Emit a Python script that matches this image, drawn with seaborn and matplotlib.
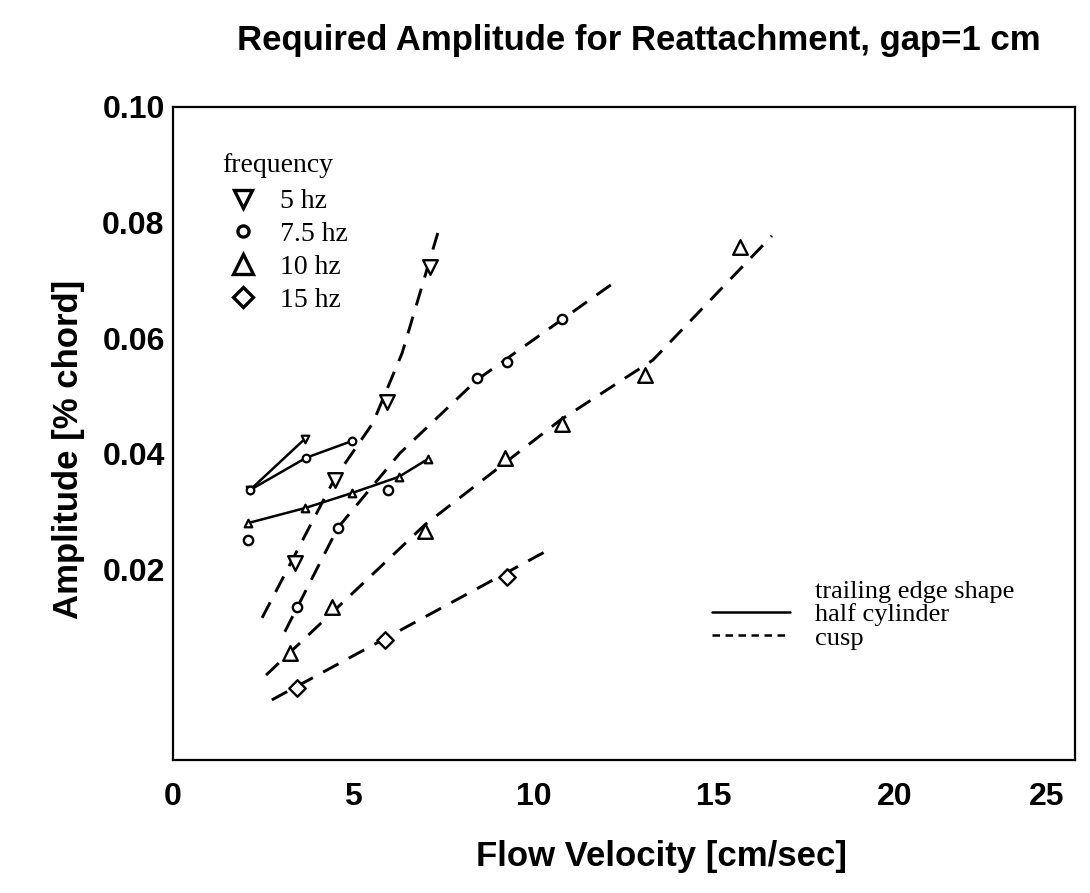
import matplotlib
matplotlib.use("Agg")
import matplotlib.pyplot as plt
from matplotlib.lines import Line2D
from matplotlib.transforms import ScaledTranslation
import seaborn as sns

# cusp trailing edge: measured points per frequency
cusp5_x = [3.38, 4.49, 5.93, 7.12]
cusp5_y = [0.0211, 0.0355, 0.0490, 0.0723]
cusp75_x = [2.08, 3.43, 4.56, 5.97, 8.42, 9.25, 10.77]
cusp75_y = [0.0251, 0.0135, 0.0271, 0.0337, 0.0531, 0.0559, 0.0634]
cusp10_x = [3.24, 4.40, 6.98, 9.20, 10.77, 13.08, 15.72]
cusp10_y = [0.0055, 0.0135, 0.0266, 0.0392, 0.0451, 0.0536, 0.0757]
cusp15_x = [3.43, 5.88, 9.25]
cusp15_y = [-0.0006, 0.0078, 0.0187]

# cusp fit curves
fit5_x = [2.47, 4.49, 5.54, 6.35, 7.34]
fit5_y = [0.0116, 0.0358, 0.0453, 0.0574, 0.0782]
fit75_x = [3.10, 4.57, 6.29, 8.43, 10.37, 12.20]
fit75_y = [0.0092, 0.0272, 0.0401, 0.0528, 0.0614, 0.0695]
fit10_x = [2.58, 6.98, 10.73, 13.30, 16.60]
fit10_y = [0.0017, 0.0277, 0.0458, 0.0562, 0.0777]
fit15_x = [2.74, 10.39]
fit15_y = [-0.0026, 0.0233]

# half cylinder trailing edge
hc5_x = [2.13, 3.66]
hc5_y = [0.0337, 0.0426]
hc75_x = [2.13, 3.69, 4.96]
hc75_y = [0.0337, 0.0393, 0.0422]
hc10_x = [2.08, 3.66, 4.96, 6.26, 7.07]
hc10_y = [0.0280, 0.0306, 0.0332, 0.0360, 0.0391]

freq_labels = ['5 hz', '7.5 hz', '10 hz', '15 hz']
freq_markers = ['v', 'o', '^', 'D']
shape_labels = ['trailing edge shape', 'half cylinder', 'cusp']
x_ticks = [0, 5, 10, 15, 20, 25]
y_ticks = [0.02, 0.04, 0.06, 0.08, 0.10]

sns.set_style("white")
plt.rcParams['font.family'] = ['Liberation Sans', 'DejaVu Sans']
plt.rcParams.update({'text.color': 'black', 'axes.labelcolor': 'black',
                     'xtick.color': 'black', 'ytick.color': 'black'})

fig = plt.figure(figsize=(10.9, 8.93), dpi=100)
ax = fig.add_axes([0.1587, 0.1489, 0.8275, 0.7313])

dash = (0, (6, 4))
for fx, fy in [(fit5_x, fit5_y), (fit75_x, fit75_y), (fit10_x, fit10_y), (fit15_x, fit15_y)]:
    sns.lineplot(x=fx, y=fy, ax=ax, color='black', lw=2.1, linestyle=dash,
                 estimator=None, sort=False)

for hx, hy in [(hc5_x, hc5_y), (hc75_x, hc75_y), (hc10_x, hc10_y)]:
    sns.lineplot(x=hx, y=hy, ax=ax, color='black', lw=1.8,
                 estimator=None, sort=False)

sizes = {'v': 110, 'o': 45, '^': 110, 'D': 70}
for (px, py), m in zip([(cusp5_x, cusp5_y), (cusp75_x, cusp75_y),
                        (cusp10_x, cusp10_y), (cusp15_x, cusp15_y)], freq_markers):
    sns.scatterplot(x=px, y=py, ax=ax, marker=m, s=sizes[m], color='white',
                    edgecolor='black', linewidth=1.7, zorder=3)

for (px, py), m in zip([(hc5_x, hc5_y), (hc75_x, hc75_y), (hc10_x, hc10_y)], ['v', 'o', '^']):
    sns.scatterplot(x=px, y=py, ax=ax, marker=m, s=30, color='white',
                    edgecolor='black', linewidth=1.6, zorder=3)

ax.set_xlim(0, 25)
ax.set_ylim(-0.013, 0.10)
ax.set_xticks(x_ticks)
ax.set_yticks(y_ticks)
ax.set_yticklabels([f'{v:.2f}' for v in y_ticks])
ax.tick_params(axis='x', direction='in', length=10, width=1.2, pad=16,
               labelsize=23)
ax.tick_params(axis='y', direction='out', length=3, width=1.2, pad=3,
               labelsize=23)
for lab in ax.get_xticklabels() + ax.get_yticklabels():
    lab.set_fontweight('bold')
# last x label sits a little inside the frame edge, as in the original
last = ax.get_xticklabels()[-1]
last.set_transform(last.get_transform() + ScaledTranslation(-0.28, 0, fig.dpi_scale_trans))
for sp in ax.spines.values():
    sp.set_color('black')
    sp.set_linewidth(1.6)

ax.set_xlabel('Flow Velocity [cm/sec]', fontsize=25, fontweight='bold')
ax.xaxis.set_label_coords(0.542, -0.122)
ax.set_ylabel('Amplitude [% chord]', fontsize=25, fontweight='bold')
ax.yaxis.set_label_coords(-0.098, 0.475)
fig.text(0.586, 0.955, 'Required Amplitude for Reattachment, gap=1 cm',
         ha='center', va='center', fontsize=25, fontweight='bold')

serif20 = {'family': 'Liberation Serif', 'size': 20}
freq_handles = [Line2D([], [], marker=m, ls='', mfc='white', mec='black',
                       ms=ms, mew=2.4)
                for m, ms in zip(freq_markers, [13, 8, 14, 10])]
leg1 = ax.legend(freq_handles, freq_labels, title='frequency', loc='upper left',
                 bbox_to_anchor=(0.054, 0.93), frameon=False, prop=serif20,
                 title_fontproperties=serif20, alignment='left',
                 handletextpad=0.6, labelspacing=0.27, borderpad=0,
                 handlelength=1.5, borderaxespad=0, labelcolor='black')
leg1._legend_box.sep = 8
leg1.get_title().set_color('black')
ax.add_artist(leg1)

serif19 = {'family': 'Liberation Serif', 'size': 19}
shape_handles = [Line2D([], [], ls='', marker=''),
                 Line2D([], [], color='black', lw=1.8),
                 Line2D([], [], color='black', lw=1.8, ls=(0, (3, 2.2)))]
ax.legend(shape_handles, shape_labels, loc='upper left',
          bbox_to_anchor=(0.5976, 0.277), frameon=False, prop=serif19,
          handlelength=2.95, handletextpad=0.95, labelspacing=0.0,
          borderpad=0, borderaxespad=0, labelcolor='black')

fig.savefig('out.png', dpi=100)
